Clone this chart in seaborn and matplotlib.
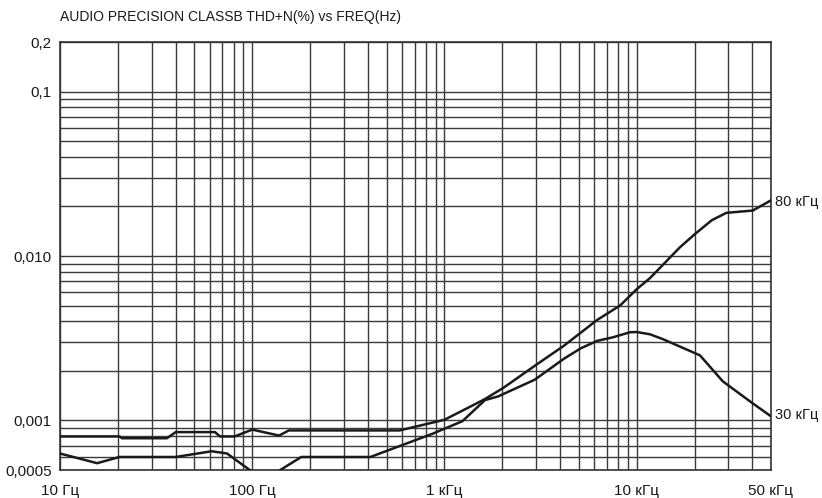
import numpy as np
import pandas as pd
import matplotlib
matplotlib.use("Agg")
import matplotlib.pyplot as plt
import seaborn as sns
from matplotlib.ticker import LogLocator, FixedLocator, NullFormatter

# ---- data ----
freq_80k = [10, 20.4, 21, 36, 40, 64, 68, 81, 100, 138, 155, 584, 1000, 1393, 1625,
            2027, 3070, 4190, 6240, 8220, 10000, 11750, 16800, 20100, 24600, 29300,
            40200, 50000]
thd_80k = [0.0008, 0.0008, 0.00078, 0.00078, 0.00085, 0.00085, 0.0008, 0.0008, 0.00088,
           0.00081, 0.00087, 0.00087, 0.00101, 0.00123, 0.00135, 0.00158, 0.00222,
           0.00285, 0.00409, 0.00501, 0.00628, 0.00735, 0.0113, 0.0136, 0.0165, 0.0183,
           0.0189, 0.0218]

freq_30k = [10, 15.6, 20.4, 40, 61.5, 74, 97, 118, 140, 180, 412, 866, 1240, 1625,
            1900, 2950, 4200, 5130, 6240, 7500, 9240, 10000, 11750, 13720, 21340,
            28070, 40200, 50000]
thd_30k = [0.00063, 0.00055, 0.0006, 0.0006, 0.00065, 0.00063, 0.0005, 0.00045, 0.0005,
           0.0006, 0.0006, 0.00083, 0.00099, 0.00133, 0.0014, 0.00177, 0.00238, 0.00275,
           0.00305, 0.0032, 0.00344, 0.00345, 0.00334, 0.00312, 0.00249, 0.00173,
           0.00127, 0.00106]

series_labels = ["80 кГц", "30 кГц"]
x_ticks = [10, 100, 1000, 10000, 50000]
x_tick_labels = ["10 Гц", "100 Гц", "1 кГц", "10 кГц", "50 кГц"]
y_ticks = [0.0005, 0.001, 0.01, 0.1, 0.2]
y_tick_labels = ["0,0005", "0,001", "0,010", "0,1", "0,2"]
title = "AUDIO PRECISION CLASSB THD+N(%) vs FREQ(Hz)"

df = pd.concat([
    pd.DataFrame({"freq": freq_80k, "thd": thd_80k, "series": series_labels[0]}),
    pd.DataFrame({"freq": freq_30k, "thd": thd_30k, "series": series_labels[1]}),
])

sns.set_style("white")
plt.rcParams["font.family"] = ["Liberation Sans", "DejaVu Sans"]

fig = plt.figure(figsize=(8.22, 4.98), dpi=100)
ax = fig.add_axes([60/822, 1 - 470/498, (771 - 60)/822, (470 - 42)/498])

sns.lineplot(data=df, x="freq", y="thd", units="series", estimator=None, sort=False,
             color="#1a1a1a", linewidth=1.8, ax=ax, legend=False, zorder=3)

ax.set_xscale("log")
ax.set_yscale("log")
ax.set_xlim(10, 50000)
ax.set_ylim(0.0005, 0.2)

ax.xaxis.set_major_locator(FixedLocator(x_ticks))
ax.xaxis.set_minor_locator(LogLocator(base=10, subs=np.arange(2, 10)))
ax.yaxis.set_major_locator(FixedLocator(y_ticks))
ax.yaxis.set_minor_locator(LogLocator(base=10, subs=np.arange(1, 10)))
ax.xaxis.set_minor_formatter(NullFormatter())
ax.yaxis.set_minor_formatter(NullFormatter())
ax.set_xticklabels(x_tick_labels)
ax.set_yticklabels(y_tick_labels)
ax.tick_params(which="both", length=0, labelsize=11, colors="#1a1a1a")
ax.tick_params(axis="x", pad=10)
ax.tick_params(axis="y", pad=6)

ax.grid(True, which="both", color="#3a3a3a", linewidth=1.0, zorder=1)
ax.set_axisbelow(True)
for s in ax.spines.values():
    s.set_color("#333333")
    s.set_linewidth(1.2)

ax.set_xlabel("")
ax.set_ylabel("")

# right-side series labels
ax.annotate(series_labels[0], xy=(freq_80k[-1], thd_80k[-1]), xytext=(3, -1),
            textcoords="offset points", ha="left", va="center", fontsize=10.5,
            color="#1a1a1a", annotation_clip=False)
ax.annotate(series_labels[1], xy=(freq_30k[-1], thd_30k[-1]), xytext=(3, 1),
            textcoords="offset points", ha="left", va="center", fontsize=10.5,
            color="#1a1a1a", annotation_clip=False)

fig.text(60/822, 1 - 17/498, title, ha="left", va="center", fontsize=10, color="#1a1a1a")

fig.savefig("out.png", dpi=100, facecolor="white")
